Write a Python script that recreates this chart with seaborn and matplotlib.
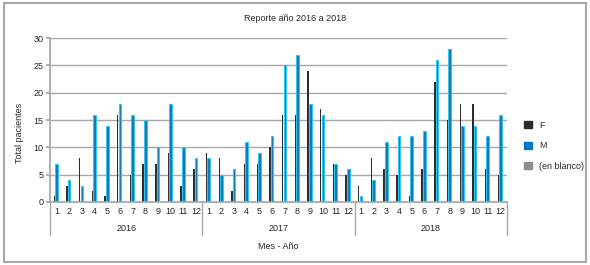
import matplotlib
matplotlib.use("Agg")
import matplotlib.pyplot as plt
import matplotlib.patches as mpatches
import matplotlib.transforms as mtransforms
import pandas as pd
import seaborn as sns

years = [2016, 2017, 2018]
months = list(range(1, 13))
f_2016 = [1, 3, 8, 2, 1, 16, 5, 7, 7, 9, 3, 6]
m_2016 = [7, 4, 3, 16, 14, 18, 16, 15, 10, 18, 10, 8]
f_2017 = [9, 8, 2, 7, 7, 10, 16, 16, 24, 17, 7, 5]
m_2017 = [8, 5, 6, 11, 9, 12, 25, 27, 18, 16, 7, 6]
f_2018 = [3, 8, 6, 5, 1, 6, 22, 15, 18, 18, 6, 5]
m_2018 = [1, 4, 11, 12, 12, 13, 26, 28, 14, 14, 12, 16]
blank = [0] * 12

series = {
    2016: {"F": f_2016, "M": m_2016, "(en blanco)": blank},
    2017: {"F": f_2017, "M": m_2017, "(en blanco)": blank},
    2018: {"F": f_2018, "M": m_2018, "(en blanco)": blank},
}
hue_order = ["F", "M", "(en blanco)"]
colors = {"F": "#2b2b2b", "M": "#0078c8", "(en blanco)": "#8c8c8c"}

rows = []
for y in years:
    for sexo in hue_order:
        for mes, v in zip(months, series[y][sexo]):
            rows.append({"periodo": f"{y}-{mes}", "mes": mes, "anio": y,
                         "sexo": sexo, "total": v})
df = pd.DataFrame(rows)
order = [f"{y}-{m}" for y in years for m in months]

sns.set_theme(style="white")
plt.rcParams["font.family"] = ["Liberation Sans", "DejaVu Sans"]
fs = 6.5

fig = plt.figure(figsize=(5.9, 2.65), dpi=100)
ax = fig.add_axes([0.085, 0.238, 0.774, 0.618])

sns.barplot(data=df, x="periodo", y="total", hue="sexo", order=order,
            hue_order=hue_order, palette=colors, width=0.62, dodge=True,
            legend=False, linewidth=0, ax=ax)

# F thinner, M with light edge like the original
for bar in ax.containers[0]:
    w = bar.get_width()
    bar.set_x(bar.get_x() + w * 0.4)
    bar.set_width(w * 0.55)
for bar in ax.containers[1]:
    bar.set_edgecolor("#33c7f5")
    bar.set_linewidth(0.8)

ax.set_ylim(0, 30)
ax.set_xlim(-0.5, len(order) - 0.5)
ax.set_yticks(range(0, 31, 5))
ax.yaxis.grid(True, color="#a8a8a8", linewidth=1)
ax.set_axisbelow(True)
for s in ["top", "right"]:
    ax.spines[s].set_visible(False)
ax.spines["left"].set_color("#a8a8a8")
ax.spines["bottom"].set_color("#a8a8a8")
ax.tick_params(axis="y", labelsize=fs, length=3, color="#a8a8a8", pad=2, left=True)
ax.set_xticks(range(len(order)))
ax.set_xticklabels([str(m) for y in years for m in months], fontsize=fs)
ax.tick_params(axis="x", length=0, pad=4)
ax.set_xlabel("")
ax.set_ylabel("Total pacientes", fontsize=fs)
ax.yaxis.set_label_coords(-0.058, 0.42)

# year groups below the axis
trans = mtransforms.blended_transform_factory(ax.transData, ax.transAxes)
for i, y in enumerate(years):
    ax.text(i * 12 + 5.5, -0.165, str(y), transform=trans, ha="center",
            va="center", fontsize=fs)
for i in range(len(years) + 1):
    ax.plot([i * 12 - 0.5] * 2, [0, -0.2], transform=trans, color="#a8a8a8",
            linewidth=1, clip_on=False)
ax.text(0.5, -0.27, "Mes - Año", transform=ax.transAxes, ha="center",
        va="center", fontsize=fs)

fig.text(0.5, 0.93, "Reporte año 2016 a 2018", ha="center", va="center",
         fontsize=fs)

handles = [mpatches.Patch(color=colors[h]) for h in hue_order]
fig.legend(handles, hue_order, loc="center left", bbox_to_anchor=(0.875, 0.45),
           frameon=False, fontsize=fs, handlelength=0.8, handleheight=0.8,
           labelspacing=1.3, handletextpad=0.8)

fig.patches.append(mpatches.Rectangle((0.006, 0.01), 0.988, 0.98,
                                      transform=fig.transFigure, fill=False,
                                      edgecolor="#a8a8a8", linewidth=1.5))

fig.savefig("out.png", dpi=100)
